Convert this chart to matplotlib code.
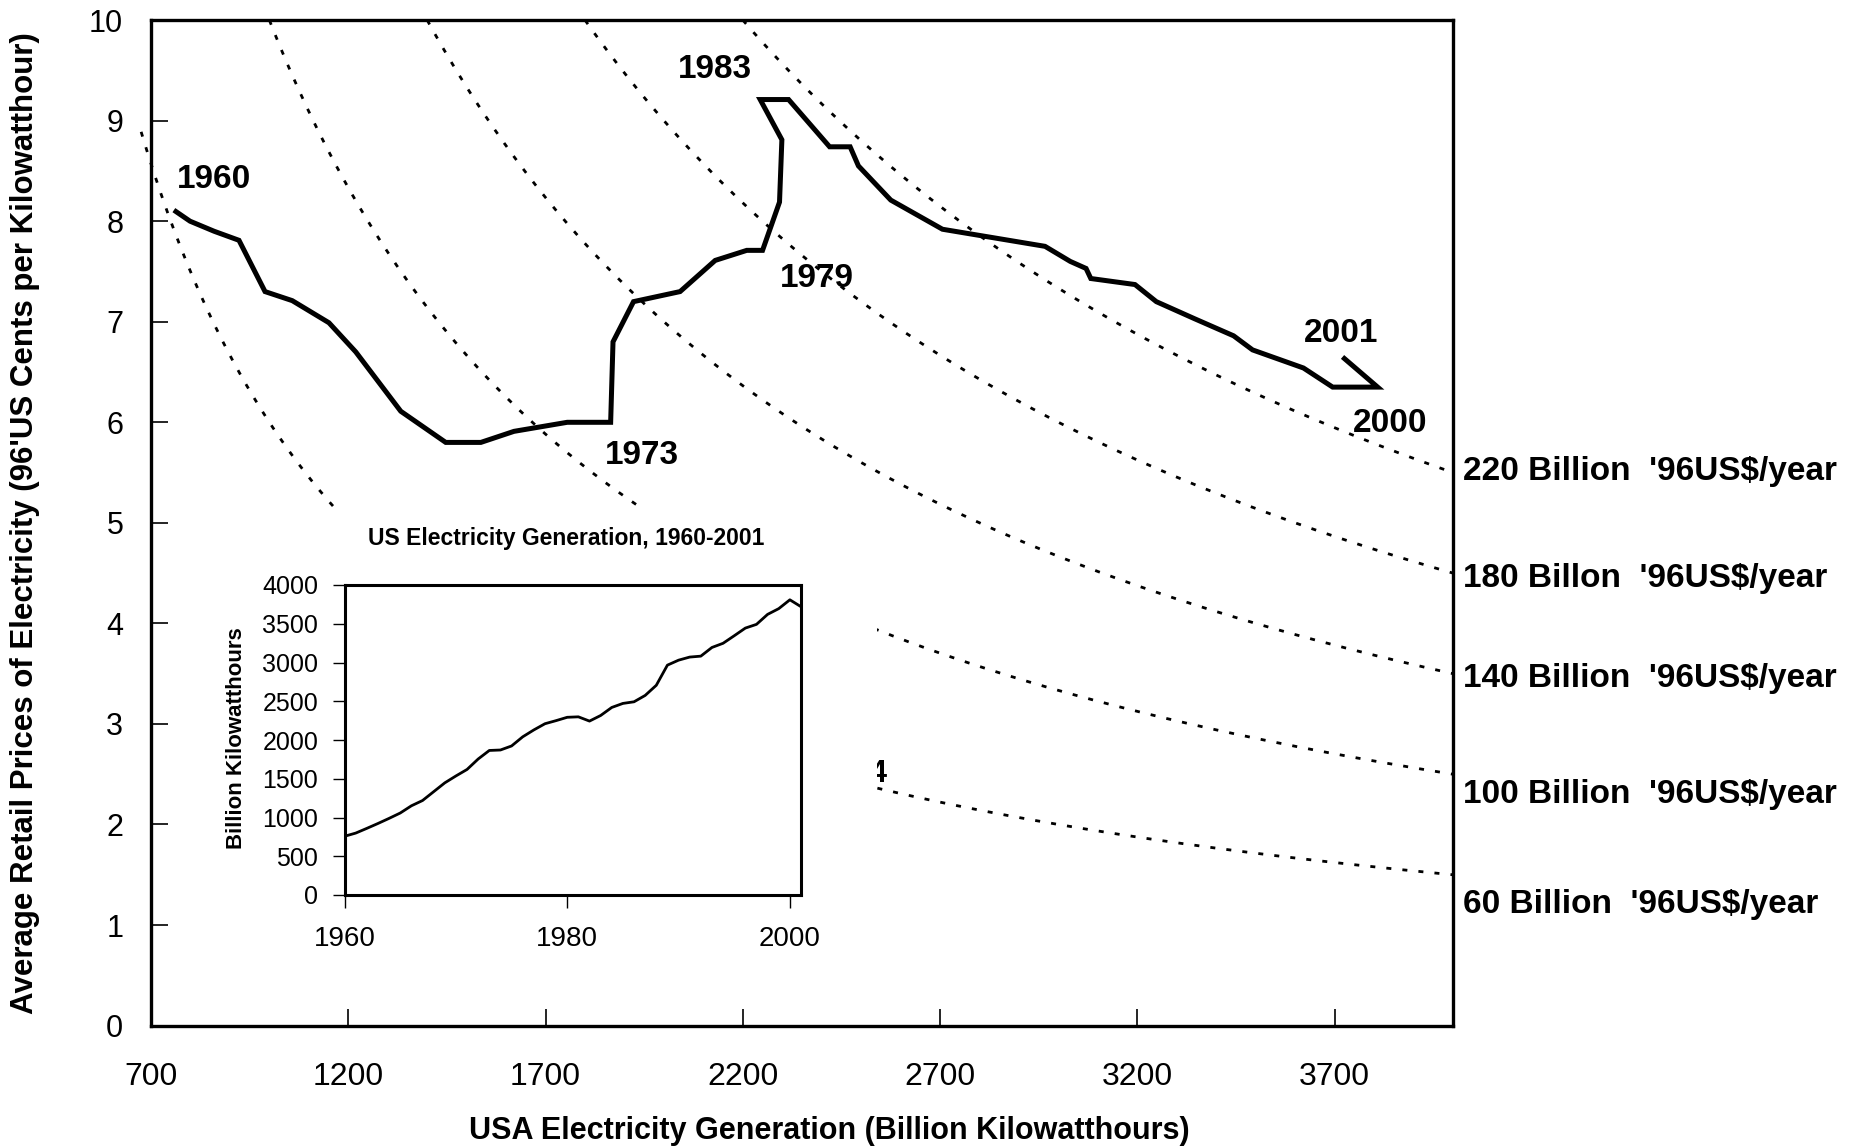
"""US electricity price vs generation 1960-2001, with iso-revenue curves and inset."""

import matplotlib
matplotlib.use('Agg')
import matplotlib.pyplot as plt
import numpy as np
from matplotlib.patches import Rectangle

plt.rcParams['font.family'] = ['Liberation Sans', 'DejaVu Sans']

years = list(range(1960, 2002))
# billion kWh
generation = [758, 799, 860, 923, 989, 1058, 1151, 1219, 1333, 1447,
              1536, 1620, 1755, 1865, 1871, 1923, 2041, 2130, 2210, 2250,
              2293, 2299, 2244, 2316, 2420, 2472, 2493, 2575, 2706, 2966,
              3030, 3070, 3082, 3194, 3248, 3345, 3444, 3492, 3621, 3695,
              3809, 3720]
# '96 US cents per kWh
price = [8.11, 8.00, 7.90, 7.81, 7.30, 7.21, 6.99, 6.70, 6.11, 5.80,
         5.80, 5.91, 6.00, 6.00, 6.80, 7.20, 7.30, 7.61, 7.71, 7.71,
         8.19, 8.81, 9.21, 9.21, 8.74, 8.74, 8.55, 8.21, 7.92, 7.75,
         7.60, 7.53, 7.43, 7.37, 7.20, 7.03, 6.86, 6.72, 6.54, 6.35,
         6.35, 6.65]

year_labels = ['1960', '1973', '1979', '1983', '2001', '2000']
year_label_pos = [(766, 8.33), (1851, 5.59), (2294, 7.35), (2036, 9.42),
                  (3623, 6.80), (3747, 5.90)]

# iso-revenue curves, billion '96US$ per year
revenue_levels = [60, 100, 140, 180, 220]
revenue_labels = ["60 Billion  '96US$/year", "100 Billion  '96US$/year",
                  "140 Billion  '96US$/year", "180 Billon  '96US$/year",
                  "220 Billion  '96US$/year"]
revenue_label_y = [1.12, 2.21, 3.37, 4.36, 5.43]
curve_start = [675, 1000, 1400, 1800, 2200]

fig = plt.figure(figsize=(18.57, 11.48), dpi=100)
W, H = 1857, 1148
ax = fig.add_axes([151 / W, 1 - 1025.6 / H, (1453 - 151) / W, (1025.6 - 20.1) / H])

for lvl, g0 in zip(revenue_levels, curve_start):
    g = np.linspace(g0, 4000, 400)
    ax.plot(g, 100.0 * lvl / g, color='black', lw=2, dashes=(1.8, 4),
            clip_on=False, zorder=2)

# cut-off label fragment and the blank patch behind the inset
ax.text(2565, 2.42, '4', ha='right', va='baseline', fontsize=22,
        fontweight='bold', zorder=2.2)
ax.add_patch(Rectangle((900, 0.3), 2540 - 900, 5.14 - 0.3, facecolor='white',
                       edgecolor='none', zorder=2.5))

ax.plot(generation, price, color='black', lw=3.6, solid_joinstyle='miter',
        solid_capstyle='butt', zorder=3)

for s, (x, y) in zip(year_labels, year_label_pos):
    ax.text(x, y, s, fontsize=24, fontweight='bold', ha='left', va='baseline', zorder=4)

for s, y in zip(revenue_labels, revenue_label_y):
    ax.text(4026, y, s, fontsize=24, fontweight='bold', ha='left', va='baseline',
            clip_on=False)

ax.set_xlim(700, 4000)
ax.set_ylim(0, 10)
ax.set_xticks(range(700, 3701, 500))
ax.set_yticks(range(0, 11))
ax.tick_params(direction='in', length=12, width=1.2, labelsize=22)
ax.tick_params(axis='x', pad=26, labelsize=23)
ax.tick_params(axis='y', pad=20)
for sp in ax.spines.values():
    sp.set_linewidth(2.4)

fig.text(829 / W, 1 - 1131 / H, 'USA Electricity Generation (Billion Kilowatthours)',
         ha='center', va='center', fontsize=22, fontweight='bold')
fig.text(25 / W, 1 - 523 / H,
         "Average Retail Prices of Electricity (96'US Cents per Kilowatthour)",
         rotation=90, ha='center', va='center', fontsize=22.5, fontweight='bold')

# inset: generation over time
axin = fig.add_axes([344.6 / W, 1 - 895 / H, (801 - 344.6) / W, (895 - 585) / H])
axin.set_zorder(5)
axin.plot(years, generation, color='black', lw=2)
axin.set_xlim(1960, 2001)
axin.set_ylim(0, 4000)
axin.set_xticks([1960, 1980, 2000])
axin.set_yticks(range(0, 4001, 500))
axin.tick_params(direction='out', length=9, width=1, labelsize=18)
axin.tick_params(axis='x', pad=13, labelsize=20)
axin.tick_params(axis='y', pad=10)
for sp in axin.spines.values():
    sp.set_linewidth(2.2)

fig.text(566 / W, 1 - 545 / H, 'US Electricity Generation, 1960-2001',
         ha='center', va='baseline', fontsize=16.5, fontweight='bold')
fig.text(236 / W, 1 - 738 / H, 'Billion Kilowatthours', rotation=90,
         ha='center', va='center', fontsize=16, fontweight='bold')

fig.savefig('out.png', dpi=100)
plt.close(fig)
